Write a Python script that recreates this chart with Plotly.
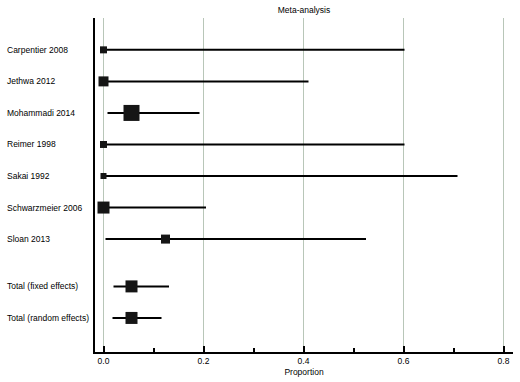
import plotly.graph_objects as go
import math

studies = ["Carpentier 2008", "Jethwa 2012", "Mohammadi 2014", "Reimer 1998",
           "Sakai 1992", "Schwarzmeier 2006", "Sloan 2013",
           "Total (fixed effects)", "Total (random effects)"]
proportion = [0.0, 0.0, 0.056, 0.0, 0.0, 0.0, 0.124, 0.056, 0.056]
ci_low = [0.0, 0.0, 0.008, 0.0, 0.0, 0.0, 0.004, 0.020, 0.018]
ci_high = [0.602, 0.410, 0.192, 0.602, 0.708, 0.205, 0.525, 0.131, 0.116]
weights = [4.9, 10.0, 25.6, 4.9, 3.6, 14.4, 8.1, 14.4, 14.4]
row_pos = [0, 1, 2, 3, 4, 5, 6, 7.5, 8.5]
x_ticks = [0.0, 0.2, 0.4, 0.6, 0.8]

wmax = max(weights)
sizes = [16 * math.sqrt(w / wmax) for w in weights]

FONT = "Liberation Sans, Arial, sans-serif"
PLOT_W = 520 - 95 - 7

fig = go.Figure()
fig.add_trace(go.Scatter(
    x=proportion, y=row_pos, mode="markers",
    marker=dict(symbol="square", size=sizes, color="#151515", opacity=1,
                line=dict(width=0)),
    error_x=dict(type="data", symmetric=False,
                 array=[h - p for h, p in zip(ci_high, proportion)],
                 arrayminus=[p - l for p, l in zip(proportion, ci_low)],
                 color="black", thickness=2, width=0),
    showlegend=False, hoverinfo="skip"))

for name, y in zip(studies, row_pos):
    fig.add_annotation(x=(5 - 95) / PLOT_W, xref="paper", y=y, yref="y",
                       text=name, showarrow=False, xanchor="left",
                       font=dict(family=FONT, size=8.5, color="black"))

fig.update_layout(
    width=520, height=382,
    margin=dict(l=95, r=7, t=18, b=30, autoexpand=False),
    paper_bgcolor="white", plot_bgcolor="white",
    title=dict(text="Meta-analysis", x=0.5, xref="paper", xanchor="center",
               y=1 - 10 / 382, yref="container", yanchor="middle",
               font=dict(family=FONT, size=8.5, color="black")),
    font=dict(family=FONT, size=8.5, color="black"),
)
fig.update_xaxes(
    automargin=False,
    range=[-0.017, 0.819], tickvals=x_ticks, ticktext=[f"{v:.1f}" for v in x_ticks],
    showgrid=True, gridcolor="#b8c6b8", gridwidth=1, griddash="solid", zeroline=False,
    showline=True, linecolor="black", linewidth=2,
    ticks="inside", ticklen=6, tickwidth=2, tickcolor="black",
    minor=dict(dtick=0.1, tick0=0, ticks="inside", ticklen=4, tickwidth=2,
               tickcolor="black", showgrid=False),
    title=dict(text="Proportion", standoff=4, font=dict(family=FONT, size=8.5)),
    tickfont=dict(family=FONT, size=8.5),
)
fig.update_yaxes(
    automargin=False,
    range=[9.58, -1.01], showgrid=False, zeroline=False,
    showline=True, linecolor="black", linewidth=2,
    showticklabels=False, ticks="",
)

fig.write_html("out.html", config={"displayModeBar": False},
               post_script="document.body.style.margin='0';document.body.style.padding='0';")
